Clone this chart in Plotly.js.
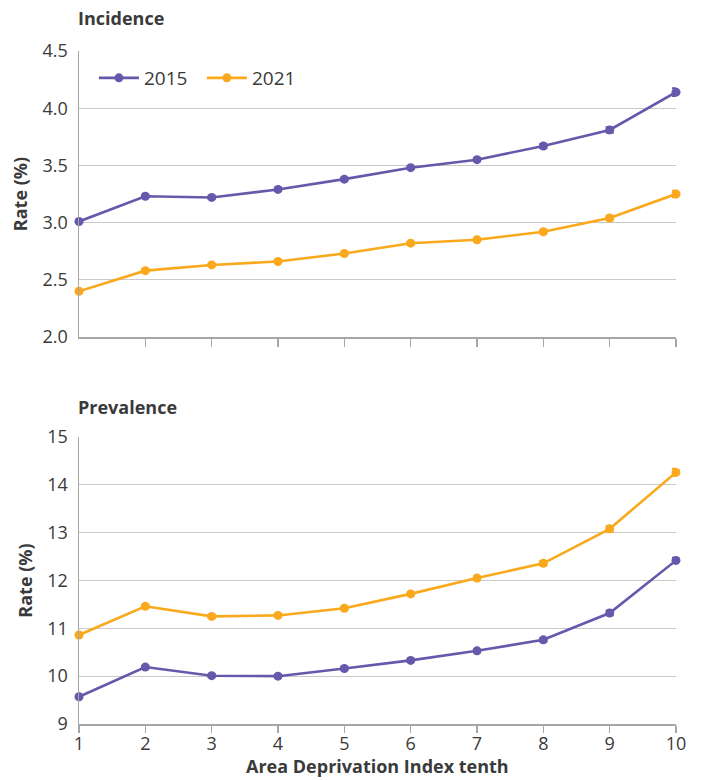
<!DOCTYPE html>
<html>
<head>
<meta charset="utf-8">
<script src="https://cdn.plot.ly/plotly-3.0.1.min.js"></script>
<style>html,body{margin:0;padding:0;background:#fff}#chart{width:702px;height:780px}</style>
</head>
<body>
<div id="chart"></div>
<script>
const tenths = [1, 2, 3, 4, 5, 6, 7, 8, 9, 10];
const incidence2015 = [3.01, 3.23, 3.22, 3.29, 3.38, 3.48, 3.55, 3.67, 3.81, 4.14];
const incidence2021 = [2.40, 2.58, 2.63, 2.66, 2.73, 2.82, 2.85, 2.92, 3.04, 3.25];
const incidenceErr2015 = [0.012, 0.012, 0.012, 0.012, 0.012, 0.012, 0.015, 0.018, 0.025, 0.035];
const incidenceErr2021 = [0.01, 0.01, 0.01, 0.01, 0.01, 0.012, 0.012, 0.015, 0.02, 0.03];
const prevalence2015 = [9.57, 10.19, 10.01, 10.00, 10.16, 10.33, 10.53, 10.76, 11.32, 12.42];
const prevalence2021 = [10.86, 11.46, 11.25, 11.27, 11.42, 11.72, 12.05, 12.36, 13.08, 14.26];
const prevalenceErr2015 = [0.03, 0.03, 0.03, 0.03, 0.03, 0.03, 0.03, 0.04, 0.05, 0.06];
const prevalenceErr2021 = [0.03, 0.03, 0.03, 0.03, 0.03, 0.03, 0.04, 0.05, 0.06, 0.08];
const seriesNames = ['2015', '2021'];
const xTitle = 'Area Deprivation Index tenth';

const purple = '#6459aa';
const orange = '#f9a91b';
const FONT = '"Open Sans", sans-serif';

function tr(x, y, err, name, color, xa, ya, showlegend) {
  return {
    x: x, y: y, name: name, type: 'scatter', mode: 'lines+markers',
    xaxis: xa, yaxis: ya, showlegend: showlegend, legendgroup: name,
    line: {color: color, width: 2.6},
    marker: {color: color, size: 9},
    error_y: {type: 'data', array: err, visible: true, color: color, thickness: 1.8, width: 4},
    cliponaxis: false
  };
}

const data = [
  tr(tenths, incidence2015, incidenceErr2015, seriesNames[0], purple, 'x', 'y', true),
  tr(tenths, incidence2021, incidenceErr2021, seriesNames[1], orange, 'x', 'y', true),
  tr(tenths, prevalence2015, prevalenceErr2015, seriesNames[0], purple, 'x2', 'y2', false),
  tr(tenths, prevalence2021, prevalenceErr2021, seriesNames[1], orange, 'x2', 'y2', false)
];

const H = 780, W = 702;
const gridc = '#c9c9c9', linec = '#a6a6a6', tickc = '#3a3a3a';
const tickfont = {family: FONT, size: 18, color: tickc};
const titlefont = {family: FONT, size: 18, color: tickc, weight: 'bold'};

const layout = {
  width: W, height: H,
  margin: {l: 79, r: 26, t: 0, b: 0},
  paper_bgcolor: '#fff', plot_bgcolor: '#fff',
  font: {family: FONT, color: tickc},
  showlegend: true,
  legend: {
    orientation: 'h', x: 0.025, y: 1 - 78 / H, xanchor: 'left', yanchor: 'middle',
    font: {family: FONT, size: 19, color: tickc}, bgcolor: 'rgba(0,0,0,0)',
    itemwidth: 40, tracegroupgap: 0, entrywidth: 53, entrywidthmode: 'pixels'
  },
  xaxis: {
    domain: [0, 1], anchor: 'y', range: [1, 10], tickvals: [2, 3, 4, 5, 6, 7, 8, 9, 10],
    showticklabels: false, ticks: 'outside', ticklen: 8, tickcolor: linec, tickwidth: 1.5,
    showgrid: false, showline: true, linecolor: linec, linewidth: 1.5, zeroline: false,
    fixedrange: true, automargin: false
  },
  yaxis: {
    domain: [1 - 337 / H, 1 - 51 / H], anchor: 'x', range: [2, 4.5], dtick: 0.5, tick0: 2,
    tickformat: '.1f', tickfont: tickfont, ticks: '', ticklabelstandoff: 6,
    showgrid: true, gridcolor: gridc, gridwidth: 1.3, showline: true, linecolor: linec, linewidth: 1.5,
    zeroline: false, automargin: false,
    title: {text: 'Rate (%)', font: titlefont, standoff: 10}
  },
  xaxis2: {
    domain: [0, 1], anchor: 'y2', range: [1, 10], tickvals: tenths,
    tickfont: tickfont, ticks: 'outside', ticklen: 7, tickcolor: linec, tickwidth: 1.5,
    ticklabelstandoff: -4,
    showgrid: false, showline: true, linecolor: linec, linewidth: 1.5, zeroline: false, automargin: false
  },
  yaxis2: {
    domain: [1 - 724 / H, 1 - 437 / H], anchor: 'x2', range: [9, 15], dtick: 1, tick0: 9,
    tickfont: tickfont, ticks: '', ticklabelstandoff: 6,
    showgrid: true, gridcolor: gridc, gridwidth: 1.3, showline: true, linecolor: linec, linewidth: 1.5,
    zeroline: false, automargin: false,
    title: {text: 'Rate (%)', font: titlefont, standoff: 10}
  },
  annotations: [
    {text: '<b>Incidence</b>', xref: 'paper', yref: 'paper', x: 0, y: 1 - 18 / H, xanchor: 'left', yanchor: 'middle',
     xshift: -3, showarrow: false, font: {family: FONT, size: 18, color: tickc}},
    {text: '<b>Prevalence</b>', xref: 'paper', yref: 'paper', x: 0, y: 1 - 407 / H, xanchor: 'left', yanchor: 'middle',
     xshift: -3, showarrow: false, font: {family: FONT, size: 18, color: tickc}},
    {text: '<b>' + xTitle + '</b>', xref: 'paper', yref: 'paper', x: 0.5, y: 1 - 766 / H, xanchor: 'center', yanchor: 'middle',
     showarrow: false, font: {family: FONT, size: 18, color: tickc}}
  ]
};

Plotly.newPlot('chart', data, layout, {displayModeBar: false, staticPlot: true});
</script>
</body>
</html>
